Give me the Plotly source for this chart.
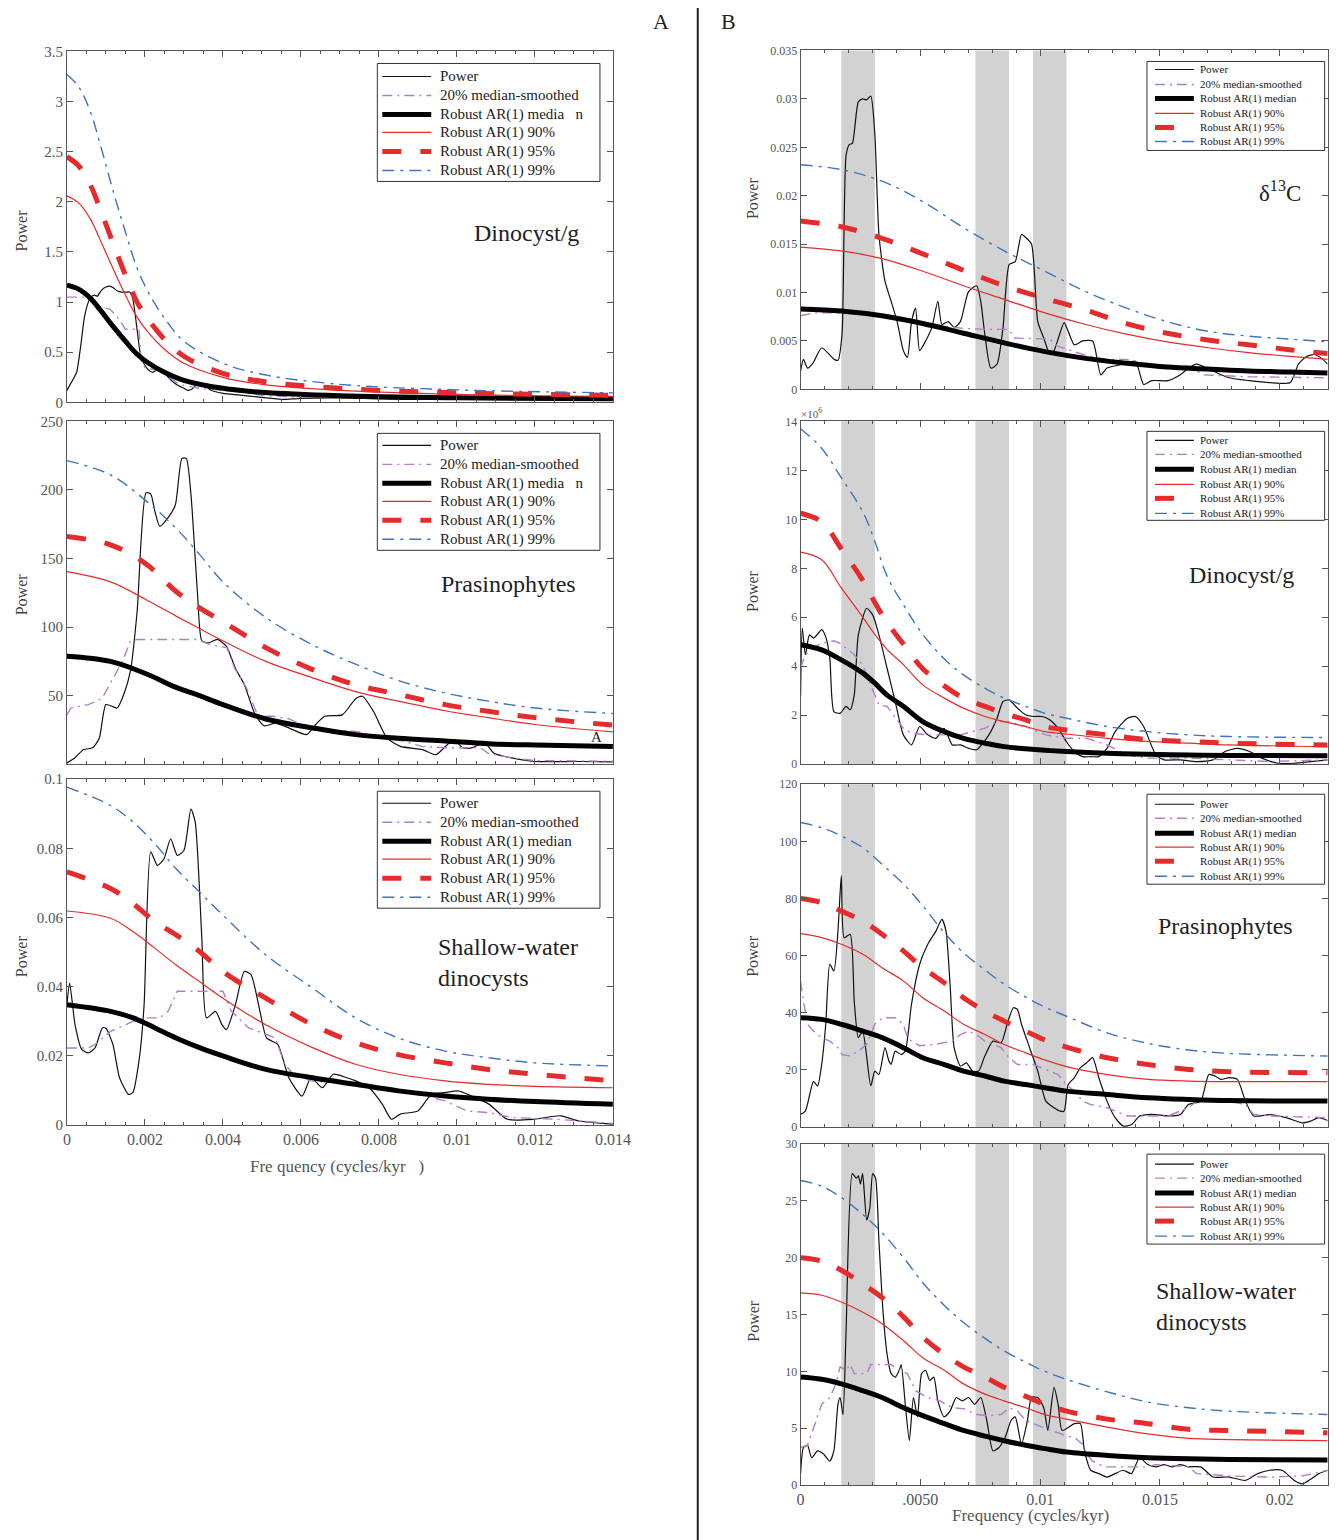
import plotly.graph_objects as go

# Mapping from reference-image pixels to figure pixels (calibrated against the
# rendered page: body margin + slight capture scaling).
SX, BX = 0.9855, 4.0
SY, BY = 0.99, 6.5
W, H = 1354, 1549
FONT = "Liberation Serif"
RED = "#E52B2B"
BLUE = "#3F74BF"
PURPLE = "#B47CCB"
BLACK = "#111111"

# ======================= DATA =======================
# ---- Panel A (x: 0..0.014 cycles/kyr) ----
# A1 Dinocyst/g
A1_AR_F = [0, 0.0003, 0.0006, 0.0009, 0.0012, 0.0015, 0.0018, 0.0021, 0.0025, 0.003, 0.004, 0.005, 0.007, 0.01, 0.014]
A1_MED = [1.17, 1.13, 1.04, 0.9, 0.75, 0.61, 0.48, 0.39, 0.3, 0.22, 0.14, 0.1, 0.065, 0.045, 0.035]
A1_P90 = [2.06, 1.99, 1.83, 1.58, 1.32, 1.07, 0.85, 0.69, 0.53, 0.39, 0.25, 0.18, 0.12, 0.08, 0.06]
A1_P95 = [2.45, 2.36, 2.17, 1.88, 1.57, 1.27, 1.0, 0.82, 0.63, 0.46, 0.29, 0.21, 0.14, 0.095, 0.07]
A1_P99 = [3.27, 3.15, 2.9, 2.51, 2.09, 1.7, 1.34, 1.09, 0.84, 0.61, 0.39, 0.28, 0.18, 0.125, 0.095]
A1_POW_F = [0, 0.00003, 0.00016, 0.00025, 0.00035, 0.00045, 0.00055, 0.00062, 0.0007, 0.00078, 0.00089, 0.001, 0.0011, 0.0012,
            0.0013, 0.0014, 0.0015, 0.0016, 0.00168, 0.00176, 0.00184, 0.0019, 0.002, 0.0021, 0.0022, 0.0023, 0.0024, 0.0025,
            0.0026, 0.0028, 0.003, 0.0031, 0.0032, 0.0033, 0.0034, 0.0035, 0.0037, 0.004, 0.0045, 0.005, 0.0055, 0.006,
            0.007, 0.008, 0.009, 0.01, 0.011, 0.012, 0.013, 0.014]
A1_POW = [0.12, 0.14, 0.23, 0.3, 0.55, 0.85, 1.0, 1.05, 1.07, 1.06, 1.12, 1.15, 1.16, 1.14,
          1.11, 1.1, 1.1, 1.1, 1.05, 0.85, 0.6, 0.45, 0.37, 0.32, 0.3, 0.32, 0.33, 0.3,
          0.25, 0.18, 0.14, 0.12, 0.13, 0.17, 0.2, 0.18, 0.12, 0.09, 0.07, 0.05, 0.03, 0.04,
          0.045, 0.035, 0.03, 0.04, 0.035, 0.03, 0.03, 0.025]
A1_SM_F = [0, 0.00065, 0.0008, 0.0011, 0.0013, 0.0015, 0.00185, 0.0019, 0.002, 0.0022, 0.0024, 0.0026, 0.0028, 0.003,
           0.0034, 0.004, 0.0045, 0.005, 0.0055, 0.006, 0.008, 0.01, 0.012, 0.014]
A1_SM = [1.05, 1.05, 0.96, 0.93, 0.85, 0.73, 0.73, 0.42, 0.35, 0.33, 0.32, 0.26, 0.2, 0.17,
         0.14, 0.12, 0.1, 0.07, 0.06, 0.05, 0.045, 0.04, 0.04, 0.04]

# A2 Prasinophytes
A2_AR_F = [0, 0.00112, 0.00203, 0.0028, 0.0034, 0.004, 0.0051, 0.0063, 0.0074, 0.0085, 0.0097, 0.0108, 0.012, 0.014]
A2_MED = [78.8, 75, 66, 56, 50, 43.5, 33, 26.5, 21.6, 19, 17, 15, 14, 13]
A2_P90 = [140.5, 133, 120, 108, 99, 90, 75, 63, 53, 46, 39, 34, 29, 23.6]
A2_P95 = [166, 160, 146, 126, 114, 104, 85, 69, 58, 51, 43.5, 38.6, 34, 28.5]
A2_P99 = [221.4, 211, 192, 172, 153, 133, 107, 87, 73, 61, 52, 46, 41, 37]
A2_POW_F = [0, 0.0002, 0.00043, 0.00066, 0.00083, 0.001, 0.00118, 0.00129, 0.00146, 0.00163, 0.0018, 0.00203, 0.00215,
            0.00226, 0.00238, 0.0026, 0.00278, 0.00295, 0.00306, 0.00318, 0.00335, 0.00346, 0.00363, 0.00386, 0.00409,
            0.00432, 0.00455, 0.00483, 0.00506, 0.00535, 0.00569, 0.00615, 0.00638, 0.00661, 0.00706, 0.00741, 0.00758,
            0.00786, 0.00821, 0.00855, 0.00912, 0.00946, 0.00992, 0.01015, 0.01038, 0.01072, 0.01095, 0.0114, 0.012,
            0.0131, 0.014]
A2_POW = [1, 4.6, 10.7, 12, 19, 43.5, 42, 41, 51, 68, 111, 198, 197,
          184, 173.5, 180, 189, 223, 223, 197, 124, 90, 88.5, 91, 86,
          70, 58, 36, 28, 30, 26.5, 21.6, 29, 35, 36, 48, 49.6,
          38.6, 19, 13, 10.7, 7, 18, 12, 12, 15.5, 8, 4.6, 2,
          2, 1.7]
A2_SM_F = [0, 0.0001, 0.00055, 0.0009, 0.00123, 0.00146, 0.00163, 0.0018, 0.00335, 0.0037, 0.0041, 0.0043, 0.0046,
           0.0049, 0.0053, 0.0057, 0.0063, 0.0074, 0.008, 0.0086, 0.0091, 0.0097, 0.0106, 0.0108, 0.0114, 0.012, 0.014]
A2_SM = [36, 41, 43.5, 48, 65, 77.5, 90, 91, 91, 87, 85, 70, 56,
         35, 35, 33, 25, 24, 20, 17, 13, 12, 12, 8, 4.6, 2.7, 2.2]

# A3 Shallow-water dinocysts
A3_AR_F = [0, 0.00112, 0.0017, 0.00226, 0.0028, 0.0034, 0.004, 0.0051, 0.0063, 0.0074, 0.0085, 0.0097, 0.0108, 0.012, 0.014]
A3_MED = [0.0348, 0.0329, 0.031, 0.0281, 0.0252, 0.0224, 0.02, 0.0161, 0.0137, 0.0118, 0.0099, 0.0084, 0.0075, 0.0068, 0.006]
A3_P90 = [0.0619, 0.0598, 0.0559, 0.0511, 0.0463, 0.0415, 0.0367, 0.029, 0.0224, 0.0176, 0.0147, 0.0128, 0.0118, 0.0112, 0.0108]
A3_P95 = [0.0732, 0.0684, 0.064, 0.0588, 0.055, 0.0502, 0.0444, 0.0367, 0.029, 0.0238, 0.0204, 0.018, 0.0161, 0.0147, 0.0128]
A3_P99 = [0.0977, 0.0924, 0.0876, 0.0813, 0.0741, 0.0674, 0.0607, 0.0492, 0.0396, 0.031, 0.0252, 0.0214, 0.0195, 0.018, 0.0171]
A3_POW_F = [0, 0.00007, 0.00021, 0.00038, 0.00055, 0.00072, 0.00091, 0.001, 0.00118, 0.00135, 0.00158, 0.00169, 0.00186,
            0.00198, 0.00215, 0.00232, 0.00249, 0.00266, 0.00283, 0.003, 0.00318, 0.00329, 0.00346, 0.00358, 0.00381,
            0.00398, 0.00409, 0.00432, 0.00455, 0.00472, 0.00495, 0.00512, 0.00541, 0.00569, 0.00603, 0.00626, 0.00655,
            0.00683, 0.00718, 0.00741, 0.00775, 0.00809, 0.00832, 0.00855, 0.009, 0.00935, 0.00969, 0.01003, 0.01038,
            0.01083, 0.01129, 0.01198, 0.01266, 0.01312, 0.014]
A3_POW = [0.0348, 0.041, 0.029, 0.0219, 0.0209, 0.0223, 0.0281, 0.028, 0.0233, 0.0137, 0.0089, 0.0094, 0.0195,
          0.0348, 0.079, 0.0751, 0.077, 0.0828, 0.078, 0.0794, 0.0914, 0.0876, 0.054, 0.031, 0.0329,
          0.029, 0.0276, 0.0348, 0.0444, 0.0435, 0.0329, 0.0252, 0.0233, 0.0137, 0.0084, 0.0137, 0.0108,
          0.0147, 0.0137, 0.0128, 0.0108, 0.006, 0.0017, 0.0032, 0.0041, 0.0089, 0.0094, 0.0099, 0.0084,
          0.006, 0.0017, 0.0017, 0.0027, 0.0012, 0.0003]
A3_SM_F = [0, 0.00055, 0.00072, 0.00112, 0.00169, 0.00203, 0.00238, 0.0026, 0.00283, 0.004, 0.00421, 0.00466, 0.00512,
           0.00535, 0.00558, 0.00581, 0.00626, 0.00741, 0.00855, 0.00923, 0.00969, 0.01026, 0.01083, 0.01141, 0.01255, 0.014]
A3_SM = [0.0223, 0.0223, 0.0233, 0.0271, 0.03, 0.031, 0.031, 0.033, 0.0387, 0.0387, 0.033, 0.0281, 0.0262,
         0.0252, 0.0176, 0.0147, 0.0128, 0.0118, 0.0099, 0.0084, 0.007, 0.0041, 0.0036, 0.0022, 0.0017, 0.0005]

# ---- Panel B (x: 0..0.022 cycles/kyr) ----
BAND_LO = [0.0017, 0.0073, 0.0097]
BAND_HI = [0.0031, 0.0087, 0.0111]

# B1 d13C
B1_AR_F = [0, 0.0017, 0.0034, 0.0051, 0.0068, 0.0085, 0.0102, 0.0119, 0.0136, 0.0153, 0.017, 0.0187, 0.0204, 0.022]
B1_MED = [0.0083, 0.0081, 0.0076, 0.0068, 0.0058, 0.0048, 0.0039, 0.0032, 0.0027, 0.0023, 0.0021, 0.0019, 0.0018, 0.0017]
B1_P90 = [0.0147, 0.0143, 0.0135, 0.0122, 0.0107, 0.0093, 0.0079, 0.0067, 0.0057, 0.0049, 0.0043, 0.0038, 0.0034, 0.0031]
B1_P95 = [0.0174, 0.0168, 0.0156, 0.014, 0.0123, 0.0107, 0.0094, 0.0082, 0.0068, 0.0058, 0.0051, 0.0046, 0.0041, 0.0037]
B1_P99 = [0.0232, 0.0227, 0.0215, 0.0194, 0.0167, 0.0143, 0.0122, 0.0101, 0.0084, 0.007, 0.006, 0.0055, 0.0052, 0.0049]
B1_POW_F = [0, 0.00012, 0.00029, 0.00054, 0.00088, 0.0014, 0.00156, 0.00173, 0.0019, 0.00204, 0.00216, 0.00241, 0.00259,
            0.00276, 0.00293, 0.0031, 0.00327, 0.00352, 0.00378, 0.00403, 0.00429, 0.00446, 0.00463, 0.0048, 0.00497,
            0.00522, 0.00548, 0.00573, 0.0059, 0.00616, 0.00641, 0.00667, 0.00701, 0.00735, 0.00752, 0.00769, 0.00794,
            0.0082, 0.00845, 0.00871, 0.00896, 0.00922, 0.00939, 0.00964, 0.0099, 0.01015, 0.01041, 0.01058, 0.011,
            0.01117, 0.01143, 0.01177, 0.01219, 0.01253, 0.01279, 0.01347, 0.01398, 0.01432, 0.01466, 0.01534, 0.01585,
            0.01619, 0.01653, 0.01721, 0.01789, 0.01874, 0.01959, 0.02044, 0.02078, 0.02112, 0.02146, 0.0218, 0.022]
B1_POW = [0.0019, 0.0031, 0.0022, 0.0028, 0.0043, 0.0031, 0.003, 0.0057, 0.0242, 0.0253, 0.0254, 0.0297, 0.03,
          0.0299, 0.0303, 0.0263, 0.016, 0.0112, 0.0091, 0.007, 0.004, 0.0033, 0.007, 0.0084, 0.004,
          0.005, 0.0064, 0.0091, 0.0067, 0.007, 0.0064, 0.007, 0.0101, 0.0107, 0.0091, 0.0057, 0.0022,
          0.0026, 0.0064, 0.0129, 0.0132, 0.016, 0.0157, 0.015, 0.007, 0.0053, 0.0036, 0.004, 0.0069,
          0.006, 0.0046, 0.005, 0.005, 0.0015, 0.0022, 0.0026, 0.0029, 0.0005, 0.0009, 0.0009, 0.0015,
          0.0022, 0.0026, 0.0019, 0.0012, 0.0009, 0.0007, 0.0007, 0.0026, 0.0034, 0.0036, 0.0031, 0.0026]
B1_SM_F = [0, 0.00054, 0.0017, 0.0034, 0.0043, 0.0051, 0.006, 0.0068, 0.0077, 0.0087, 0.0089, 0.0104, 0.0107, 0.0119,
           0.0128, 0.0136, 0.0145, 0.0162, 0.0168, 0.0187, 0.022]
B1_SM = [0.0076, 0.0079, 0.0079, 0.0077, 0.0074, 0.0069, 0.0065, 0.0063, 0.0062, 0.0062, 0.0053, 0.0052, 0.0045, 0.0035,
         0.0031, 0.0031, 0.0024, 0.0024, 0.0015, 0.0013, 0.0012]

# B2 Dinocyst/g (x10^6)
B2_AR_F = [0, 0.00088, 0.0017, 0.0026, 0.0031, 0.0036, 0.0043, 0.0051, 0.006, 0.0068, 0.0077, 0.0085, 0.0094, 0.0102,
           0.0111, 0.0128, 0.0145, 0.0162, 0.0179, 0.022]
B2_MED = [4.88, 4.67, 4.26, 3.72, 3.31, 2.83, 2.36, 1.74, 1.33, 1.06, 0.86, 0.72, 0.63, 0.57, 0.52, 0.45, 0.41, 0.38, 0.36, 0.35]
B2_P90 = [8.66, 8.35, 7.2, 6.0, 5.3, 4.7, 4.06, 3.24, 2.7, 2.29, 1.95, 1.74, 1.54, 1.33, 1.23, 1.06, 0.93, 0.86, 0.79, 0.72]
B2_P95 = [10.25, 9.9, 8.8, 7.5, 6.6, 5.8, 4.9, 3.9, 3.2, 2.7, 2.36, 2.08, 1.81, 1.54, 1.4, 1.2, 1.0, 0.93, 0.86, 0.79]
B2_P99 = [13.7, 12.9, 11.7, 10.3, 9.1, 7.7, 6.5, 5.3, 4.3, 3.65, 3.1, 2.7, 2.36, 2.08, 1.88, 1.54, 1.33, 1.2, 1.13, 1.09]
B2_POW_F = [0, 0.00007, 0.0002, 0.00037, 0.00054, 0.0007, 0.00088, 0.00105, 0.00122, 0.00139, 0.00165, 0.0019, 0.00207,
            0.00224, 0.00241, 0.00276, 0.00301, 0.00327, 0.00361, 0.00395, 0.00429, 0.00463, 0.00497, 0.00531, 0.00565,
            0.00599, 0.00633, 0.00667, 0.00701, 0.00735, 0.00786, 0.0082, 0.00845, 0.00871, 0.00905, 0.00939, 0.00973,
            0.01007, 0.01041, 0.01075, 0.01109, 0.01143, 0.01177, 0.01211, 0.01245, 0.01279, 0.01313, 0.01364, 0.01398,
            0.01432, 0.01483, 0.01517, 0.01585, 0.01653, 0.01721, 0.01772, 0.01823, 0.01874, 0.01925, 0.01993, 0.02061,
            0.02129, 0.022]
B2_POW = [2.8, 5.56, 4.47, 5.28, 5.15, 5.3, 5.5, 5.2, 4.33, 2.15, 2.08, 2.36, 2.22,
          2.83, 5.28, 6.37, 6.1, 5.28, 3.92, 2.56, 1.2, 0.79, 1.54, 1.2, 1.06,
          1.47, 0.79, 0.79, 0.65, 0.59, 1.2, 1.88, 2.56, 2.63, 2.29, 2.02, 1.95,
          1.95, 1.81, 1.47, 0.93, 0.52, 0.31, 0.31, 0.31, 0.65, 1.33, 1.88, 1.95,
          1.54, 0.38, 0.18, 0.18, 0.11, 0.18, 0.52, 0.65, 0.52, 0.25, 0.04, 0.04,
          0.11, 0.18]
B2_SM_F = [0, 0.0002, 0.00054, 0.00088, 0.00139, 0.00165, 0.0019, 0.00224, 0.00259, 0.00293, 0.00327, 0.00361, 0.00429,
           0.00463, 0.00531, 0.00667, 0.00769, 0.0082, 0.00871, 0.00939, 0.01024, 0.01109, 0.01194, 0.01279, 0.01364,
           0.01449, 0.01619, 0.01789, 0.01959, 0.022]
B2_SM = [3.92, 4.47, 4.74, 4.94, 5.04, 4.94, 4.74, 4.47, 4.06, 3.24, 2.42, 2.36, 1.47,
         1.27, 1.2, 1.2, 1.47, 1.74, 1.74, 1.54, 1.2, 1.06, 1.06, 0.79, 0.38,
         0.25, 0.25, 0.18, 0.11, 0.18]

# B3 Prasinophytes
B3_AR_F = [0, 0.00088, 0.0017, 0.0026, 0.0034, 0.0043, 0.0051, 0.006, 0.0068, 0.0077, 0.0085, 0.0094, 0.0102, 0.0111,
           0.0128, 0.0145, 0.0162, 0.0179, 0.022]
B3_MED = [38.3, 37.7, 36, 33.6, 31.3, 27.8, 24.3, 21.9, 19.6, 17.9, 16.1, 14.9, 13.8, 12.6, 11.4, 10.3, 9.7, 9.3, 9.1]
B3_P90 = [67.7, 66.3, 64, 60.5, 55.8, 51.1, 45.3, 40.6, 36, 32.4, 28.9, 26, 23.5, 21.2, 18.4, 16.7, 16.1, 15.9, 15.9]
B3_P95 = [80, 78.6, 75.6, 72.1, 67.5, 61.6, 55.8, 50.5, 45.3, 40.6, 37.1, 33.6, 30.5, 28, 24.3, 21.9, 20.2, 19.4, 19.0]
B3_P99 = [106.6, 104.8, 101.9, 97.8, 92, 85, 77.5, 68, 61, 55, 50, 45.5, 42, 38.8, 33, 29.3, 27, 25.8, 24.9]
B3_POW_F = [0, 0.0002, 0.00054, 0.00071, 0.00088, 0.00105, 0.00122, 0.00139, 0.00156, 0.0017, 0.00182, 0.00207, 0.00224,
            0.00241, 0.00259, 0.00293, 0.0031, 0.00327, 0.00352, 0.00369, 0.00378, 0.00395, 0.0042, 0.00437, 0.00463,
            0.00497, 0.00531, 0.00565, 0.0059, 0.00607, 0.00624, 0.00641, 0.00667, 0.00692, 0.00718, 0.00743, 0.00769,
            0.00803, 0.00837, 0.00862, 0.00888, 0.00905, 0.00922, 0.00956, 0.0099, 0.01024, 0.01058, 0.01083, 0.011,
            0.01117, 0.01143, 0.01168, 0.01194, 0.01219, 0.01245, 0.01279, 0.01313, 0.01347, 0.01381, 0.01415, 0.01449,
            0.01483, 0.01534, 0.01585, 0.01619, 0.0167, 0.01704, 0.0173, 0.01755, 0.01789, 0.01823, 0.01857, 0.01891,
            0.01959, 0.02027, 0.02095, 0.02129, 0.02163, 0.022]
B3_POW = [4.4, 5.6, 16, 14.4, 21.9, 36, 57, 54.6, 68.6, 88, 66.3, 67.5, 44,
          31.3, 33.6, 14.4, 19.6, 18.4, 27.8, 23.1, 22, 26.6, 25.4, 26.6, 43,
          57, 64, 68.6, 72.7, 68.6, 50, 27.8, 21.4, 22.5, 19.6, 19.6, 24.9,
          30.1, 29.5, 36, 41.8, 41.2, 36, 27.8, 19.6, 9.1, 6.8, 5.6, 5.6,
          14.9, 17.3, 20.8, 22.5, 24.3, 17.3, 9.1, 3.3, 0.35, 0.9, 3.9, 4.4,
          4.4, 3.9, 4.4, 7.9, 9.1, 18.4, 17.9, 16.7, 17.3, 16.7, 9.1, 3.9,
          4.4, 3.3, 1.5, 2.1, 3.3, 2.3]
B3_SM_F = [0, 0.00012, 0.00029, 0.00054, 0.00088, 0.00122, 0.00156, 0.00173, 0.00207, 0.00241, 0.00276, 0.0031, 0.00344,
           0.00395, 0.00429, 0.00446, 0.00463, 0.00497, 0.00565, 0.00633, 0.00667, 0.00701, 0.00735, 0.00769, 0.00803,
           0.00837, 0.00871, 0.00905, 0.00973, 0.01007, 0.01075, 0.01109, 0.01143, 0.01177, 0.01211, 0.01279, 0.01364,
           0.01534, 0.01619, 0.01653, 0.01789, 0.01857, 0.01891, 0.01959, 0.022]
B3_SM = [51, 44, 36, 33.6, 31.3, 30.1, 27.8, 25.4, 24.9, 26.6, 29, 36, 38.3,
         38.3, 36, 31.3, 30.1, 28.5, 29, 30.1, 32.4, 33.6, 32.4, 30.1, 29,
         27.8, 24.3, 21.9, 21.9, 20.8, 18.4, 14.9, 12.6, 9.1, 7.9, 6.8, 3.9,
         3.9, 6.8, 9.1, 9.1, 7.9, 4.4, 3.9, 3.3]

# B4 Shallow-water dinocysts
B4_AR_F = B3_AR_F
B4_MED = [9.5, 9.3, 8.9, 8.3, 7.7, 6.8, 6.1, 5.4, 4.8, 4.3, 3.9, 3.5, 3.2, 2.9, 2.6, 2.4, 2.3, 2.25, 2.2]
B4_P90 = [16.9, 16.7, 16.1, 15.2, 14.2, 12.7, 11.2, 10.1, 8.9, 8.0, 7.4, 6.8, 6.2, 5.8, 5.1, 4.5, 4.1, 4.0, 3.9]
B4_P95 = [20, 19.7, 18.9, 17.7, 16.5, 14.8, 13, 11.5, 10.4, 9.5, 8.6, 7.8, 7.1, 6.5, 5.8, 5.4, 4.9, 4.8, 4.6]
B4_P99 = [26.8, 26.3, 25.3, 23.8, 22.2, 20.0, 17.8, 15.8, 14.3, 12.9, 11.8, 10.8, 10.0, 9.3, 8.2, 7.3, 6.8, 6.5, 6.2]
B4_POW_F = [0, 0.00012, 0.00029, 0.00046, 0.00071, 0.00097, 0.00122, 0.00139, 0.00156, 0.00165, 0.00177, 0.0019, 0.00216,
            0.00233, 0.00241, 0.0025, 0.00259, 0.00276, 0.00289, 0.00301, 0.00313, 0.00327, 0.00344, 0.00361, 0.00378,
            0.00395, 0.00412, 0.0042, 0.00437, 0.00454, 0.00471, 0.00488, 0.00505, 0.00522, 0.00539, 0.00556, 0.00573,
            0.00599, 0.00624, 0.0065, 0.00675, 0.00701, 0.00726, 0.00752, 0.00777, 0.00803, 0.00828, 0.00854, 0.00879,
            0.00896, 0.00922, 0.00947, 0.00964, 0.0099, 0.01015, 0.01032, 0.01058, 0.01075, 0.01092, 0.01143, 0.01168,
            0.01185, 0.01211, 0.01245, 0.01279, 0.01313, 0.01347, 0.01381, 0.01415, 0.01449, 0.01483, 0.01517, 0.01551,
            0.01585, 0.01619, 0.0167, 0.01721, 0.01789, 0.01857, 0.01908, 0.01959, 0.0201, 0.02061, 0.02095, 0.02129,
            0.02163, 0.022]
B4_POW = [1, 3.3, 3.5, 2.4, 3, 2.7, 2.1, 3, 7.1, 7.7, 6.2, 13.6, 27.4,
          27, 27.2, 26.5, 27.4, 23.3, 24.4, 27.4, 27, 21.5, 15.3, 11.5, 9.8,
          9.5, 10.1, 10.6, 7.1, 3.9, 7.7, 6, 9.8, 10.1, 9.2, 9.5, 7.4,
          6, 6.5, 7.7, 7.4, 7.7, 7.1, 7.7, 5.7, 3, 3.3, 4.2, 5.7,
          6, 3.6, 5.7, 7.7, 7.7, 6.8, 4.8, 8.6, 7.1, 4.8, 5.4, 5.4,
          3, 1.3, 1, 0.7, 1, 1.3, 1, 2.4, 1.8, 1.6, 1.8, 1.6,
          1.8, 1.6, 1.6, 0.7, 0.7, 0.4, 1, 1.3, 1.3, 0.4, 0.1, 0.5,
          1, 1.3]
B4_SM_F = [0, 0.00029, 0.00088, 0.00122, 0.00148, 0.00165, 0.0019, 0.00207, 0.00224, 0.00276, 0.00293, 0.00378, 0.00412,
           0.00446, 0.0048, 0.00531, 0.00582, 0.00633, 0.00684, 0.00735, 0.00786, 0.00837, 0.00871, 0.00905, 0.00939,
           0.00973, 0.01007, 0.01041, 0.01075, 0.01109, 0.01143, 0.01177, 0.01194, 0.01219, 0.01245, 0.01279, 0.01449,
           0.01483, 0.01619, 0.01653, 0.01789, 0.01959, 0.02095, 0.02163, 0.022]
B4_SM = [3.3, 3.5, 7.1, 7.7, 8.9, 10.4, 10.1, 10.6, 9.8, 9.8, 10.6, 10.6, 10.1,
         9.8, 8.3, 7.7, 7.4, 6.8, 6.7, 6.2, 6.1, 6.2, 6.8, 6.5, 5.7,
         5.4, 5.1, 4.8, 4.6, 4.3, 4.2, 3.6, 2.7, 2.1, 1.8, 1.6, 1.6,
         1.8, 1.6, 1.0, 0.8, 0.7, 0.8, 1.1, 1.3]

A_XTICKS = [0, 0.002, 0.004, 0.006, 0.008, 0.01, 0.012, 0.014]
A_XLABELS = ["0", "0.002", "0.004", "0.006", "0.008", "0.01", "0.012", "0.014"]
B_XTICKS = [0, 0.005, 0.01, 0.015, 0.02]
B_XLABELS = ["0", ".0050", "0.01", "0.015", "0.02"]

LEG_LEFT_OLD = ["Power", "20% median-smoothed", "Robust AR(1) media\u00a0\u00a0\u00a0n",
                "Robust AR(1) 90%", "Robust AR(1) 95%", "Robust AR(1) 99%"]
LEG_STD = ["Power", "20% median-smoothed", "Robust AR(1) median",
           "Robust AR(1) 90%", "Robust AR(1) 95%", "Robust AR(1) 99%"]

# ======================= LAYOUT HELPERS =======================
def pxx(p):
    return min(1.0, max(0.0, ((p - BX) / SX) / W))


def pxy(p):
    return min(1.0, max(0.0, 1 - ((p - BY) / SY) / H))


STY_POW = dict(color=BLACK, width=1.2)
STY_SM = dict(color=PURPLE, width=1.4, dash="10px,5px,2px,5px")
STY_MED = dict(color="#000000", width=5)
STY_P90 = dict(color=RED, width=1.2)
STY_P95 = dict(color=RED, width=5, dash="19px,19px")
STY_P99 = dict(color=BLUE, width=1.4, dash="12px,6px,3px,6px")
STYLES = [STY_POW, STY_SM, STY_MED, STY_P90, STY_P95, STY_P99]

panels = [
    dict(pow_f=A1_POW_F, pow=A1_POW, sm_f=A1_SM_F, sm=A1_SM, ar_f=A1_AR_F,
         ar=[A1_MED, A1_P90, A1_P95, A1_P99], side="A", box=(67, 614, 50, 401),
         yr=[0, 3.5], ytv=[0, 0.5, 1, 1.5, 2, 2.5, 3, 3.5], ytt=["0", "0.5", "1", "1.5", "2", "2.5", "3", "3.5"],
         xlab=False, leg=(378, 601, 62, 180), legrows=[75, 94, 113, 131, 150, 169], labels=LEG_LEFT_OLD),
    dict(pow_f=A2_POW_F, pow=A2_POW, sm_f=A2_SM_F, sm=A2_SM, ar_f=A2_AR_F,
         ar=[A2_MED, A2_P90, A2_P95, A2_P99], side="A", box=(67, 614, 420, 763),
         yr=[0, 250], ytv=[50, 100, 150, 200, 250], ytt=["50", "100", "150", "200", "250"],
         xlab=False, leg=(378, 601, 432, 549), legrows=[444, 463, 482, 500, 519, 538], labels=LEG_LEFT_OLD),
    dict(pow_f=A3_POW_F, pow=A3_POW, sm_f=A3_SM_F, sm=A3_SM, ar_f=A3_AR_F,
         ar=[A3_MED, A3_P90, A3_P95, A3_P99], side="A", box=(67, 614, 778, 1124),
         yr=[0, 0.1], ytv=[0, 0.02, 0.04, 0.06, 0.08, 0.1], ytt=["0", "0.02", "0.04", "0.06", "0.08", "0.1"],
         xlab=True, leg=(378, 601, 790, 907), legrows=[802, 821, 840, 858, 877, 896], labels=LEG_STD),
    dict(pow_f=B1_POW_F, pow=B1_POW, sm_f=B1_SM_F, sm=B1_SM, ar_f=B1_AR_F,
         ar=[B1_MED, B1_P90, B1_P95, B1_P99], side="B", box=(802, 1330, 49, 388),
         yr=[0, 0.035], ytv=[0, 0.005, 0.01, 0.015, 0.02, 0.025, 0.03, 0.035],
         ytt=["0", "0.005", "0.01", "0.015", "0.02", "0.025", "0.03", "0.035"],
         xlab=False, leg=(1149, 1327, 60, 149), legrows=[68, 83, 97, 112, 126, 140], labels=LEG_STD),
    dict(pow_f=B2_POW_F, pow=B2_POW, sm_f=B2_SM_F, sm=B2_SM, ar_f=B2_AR_F,
         ar=[B2_MED, B2_P90, B2_P95, B2_P99], side="B", box=(802, 1330, 420, 763),
         yr=[0, 14], ytv=[0, 2, 4, 6, 8, 10, 12, 14], ytt=["0", "2", "4", "6", "8", "10", "12", "14"],
         xlab=False, leg=(1149, 1327, 430, 519), legrows=[439, 453, 468, 483, 497, 512], labels=LEG_STD),
    dict(pow_f=B3_POW_F, pow=B3_POW, sm_f=B3_SM_F, sm=B3_SM, ar_f=B3_AR_F,
         ar=[B3_MED, B3_P90, B3_P95, B3_P99], side="B", box=(802, 1330, 783, 1126),
         yr=[0, 120], ytv=[0, 20, 40, 60, 80, 100, 120], ytt=["0", "20", "40", "60", "80", "100", "120"],
         xlab=False, leg=(1149, 1327, 793, 883), legrows=[803, 817, 832, 846, 860, 875], labels=LEG_STD),
    dict(pow_f=B4_POW_F, pow=B4_POW, sm_f=B4_SM_F, sm=B4_SM, ar_f=B4_AR_F,
         ar=[B4_MED, B4_P90, B4_P95, B4_P99], side="B", box=(802, 1330, 1143, 1484),
         yr=[0, 30], ytv=[0, 5, 10, 15, 20, 25, 30], ytt=["0", "5", "10", "15", "20", "25", "30"],
         xlab=True, leg=(1149, 1327, 1153, 1243), legrows=[1163, 1177, 1192, 1206, 1220, 1235], labels=LEG_STD),
]

fig = go.Figure()
layout = dict(width=W, height=H, margin=dict(l=0, r=0, t=0, b=0), paper_bgcolor="white",
              plot_bgcolor="white", showlegend=False, font=dict(family=FONT, color="#333"))
shapes = []
annotations = []

for i, p in enumerate(panels, start=1):
    xa = "x" if i == 1 else f"x{i}"
    ya = "y" if i == 1 else f"y{i}"
    x0, x1, ytop, ybot = p["box"]
    isA = p["side"] == "A"
    xr = [0, 0.014] if isA else [0, 0.022]
    tfs_x = 16
    tfs_y = 15 if isA else 12
    common = dict(ticks="inside", ticklen=6, tickwidth=1, tickcolor="#555", showline=True,
                  linecolor="#555", linewidth=1, mirror="ticks", showgrid=False, zeroline=False)
    layout["xaxis" if i == 1 else f"xaxis{i}"] = dict(
        domain=[pxx(x0), pxx(x1)], range=xr, anchor=ya, tickmode="array",
        tickvals=A_XTICKS if isA else B_XTICKS, ticktext=A_XLABELS if isA else B_XLABELS,
        showticklabels=p["xlab"], tickfont=dict(family=FONT, size=tfs_x, color="#555"),
        minor=dict(tickmode="linear", tick0=0, dtick=0.0005 if isA else 0.001, ticks="inside",
                   ticklen=3, tickcolor="#555", showgrid=False),
        **common)
    layout["yaxis" if i == 1 else f"yaxis{i}"] = dict(
        domain=[pxy(ybot), pxy(ytop)], range=p["yr"], anchor=xa, tickmode="array",
        tickvals=p["ytv"], ticktext=p["ytt"], tickfont=dict(family=FONT, size=tfs_y, color="#555"),
        **common)

    if not isA:
        for lo, hi in zip(BAND_LO, BAND_HI):
            shapes.append(dict(type="rect", xref=xa, yref=f"{ya} domain", x0=lo, x1=hi, y0=0, y1=1,
                               fillcolor="#D2D2D2", line=dict(width=0), layer="below"))

    fig.add_trace(go.Scatter(x=p["pow_f"], y=p["pow"], mode="lines",
                             line=dict(**STY_POW, shape="spline", smoothing=0.6),
                             xaxis=xa, yaxis=ya, name="Power"))
    fig.add_trace(go.Scatter(x=p["sm_f"], y=p["sm"], mode="lines", line=STY_SM,
                             xaxis=xa, yaxis=ya, name="20% median-smoothed"))
    names = ["Robust AR(1) median", "Robust AR(1) 90%", "Robust AR(1) 95%", "Robust AR(1) 99%"]
    for arr, sty, nm in zip(p["ar"], [STY_MED, STY_P90, STY_P95, STY_P99], names):
        fig.add_trace(go.Scatter(x=p["ar_f"], y=arr, mode="lines",
                                 line=dict(**sty, shape="spline", smoothing=1.0),
                                 xaxis=xa, yaxis=ya, name=nm))

    # MATLAB-style legend box for this panel
    lx0, lx1, ly0, ly1 = p["leg"]
    shapes.append(dict(type="rect", xref="paper", yref="paper", x0=pxx(lx0), x1=pxx(lx1),
                       y0=pxy(ly1), y1=pxy(ly0), fillcolor="white", line=dict(color="#333", width=1),
                       layer="above"))
    if isA:
        sx0, sx1, tx, lfs = lx0 + 5, lx0 + 54, lx0 + 61, 15
    else:
        sx0, sx1, tx, lfs = lx0 + 8, lx0 + 47, lx0 + 51, 11
    for k, (yy, lab, sty) in enumerate(zip(p["legrows"], p["labels"], STYLES)):
        end = sx1 if (k != 4 or isA) else sx0 + 20
        shapes.append(dict(type="line", xref="paper", yref="paper", x0=pxx(sx0), x1=pxx(end),
                           y0=pxy(yy), y1=pxy(yy), line=sty, layer="above"))
        annotations.append(dict(x=pxx(tx), y=pxy(yy), xref="paper", yref="paper", text=lab, showarrow=False,
                                xanchor="left", yanchor="middle", font=dict(family=FONT, size=lfs, color="#222")))


def ann(x, y, text, size, xanchor="center", yanchor="middle", color="#222", **kw):
    d = dict(x=pxx(x), y=pxy(y), xref="paper", yref="paper", text=text, showarrow=False,
             xanchor=xanchor, yanchor=yanchor, font=dict(family=FONT, size=size, color=color))
    d.update(kw)
    annotations.append(d)


ann(662, 20, "A", 22)
ann(730, 20, "B", 22)
ann(527, 232, "Dinocyst/g", 24)
ann(509, 583, "Prasinophytes", 24)
ann(437, 961, "Shallow-water<br>dinocysts", 24, xanchor="left", align="left")
ann(1282, 190, "\u03b4<sup>13</sup>C", 23)
ann(1244, 574, "Dinocyst/g", 24)
ann(1228, 925, "Prasinophytes", 24)
ann(1156, 1305, "Shallow-water<br>dinocysts", 24, xanchor="left", align="left")
ann(813, 412, "\u00d710<sup>6</sup>", 11, color="#555")
ann(598, 736, "A", 15)
for yy in (229, 593, 955):
    ann(21, yy, "Power", 16, textangle=-90, color="#444")
for yy in (197, 590, 955, 1320):
    ann(754, yy, "Power", 16, textangle=-90, color="#444")
ann(338, 1165, "Fre quency (cycles/kyr\u00a0\u00a0\u00a0)", 17, color="#555")
ann(1032, 1515, "Frequency (cycles/kyr)", 17, color="#555")

# divider between panel A and B
shapes.append(dict(type="line", xref="paper", yref="paper", x0=pxx(699), x1=pxx(699), y0=0, y1=1,
                   line=dict(color="#222", width=2)))

layout["shapes"] = shapes
layout["annotations"] = annotations
fig.update_layout(**layout)
fig.write_html("out.html")
